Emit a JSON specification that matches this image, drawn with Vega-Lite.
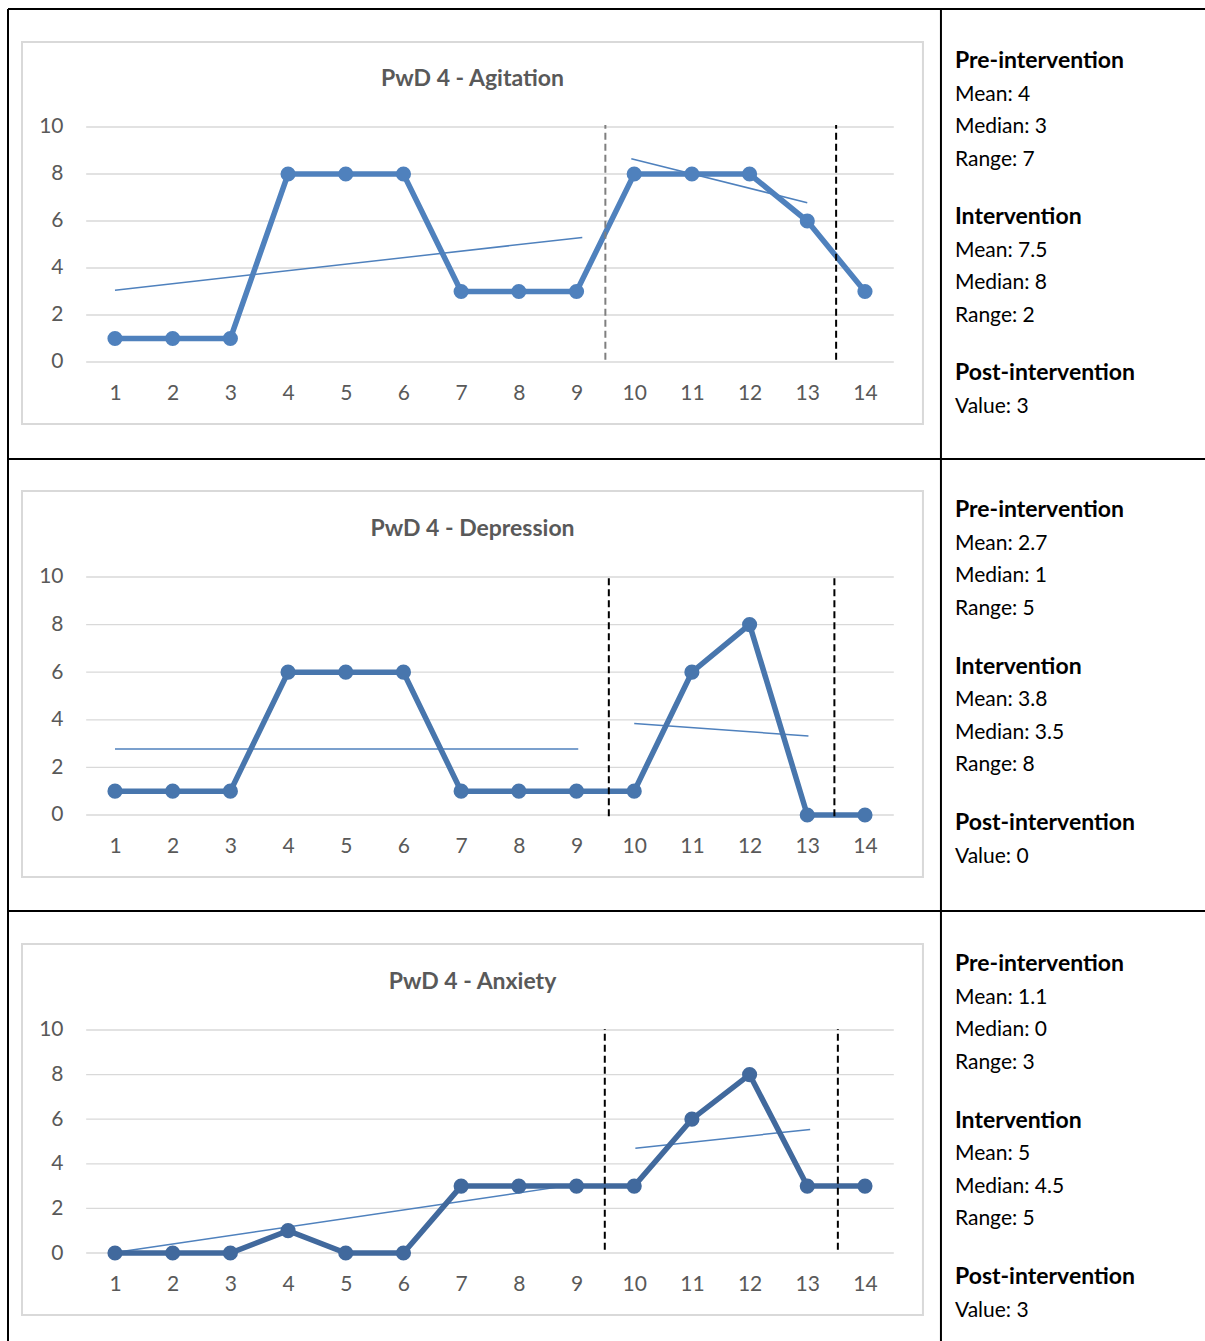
{
  "$schema": "https://vega.github.io/schema/vega-lite/v6.json",
  "padding": {"left": 7, "top": 8, "right": 0, "bottom": 0},
  "spacing": 0,
  "bounds": "flush",
  "config": {
    "view": {"stroke": null},
    "font": "Lato",
    "axis": {"grid": false, "domain": false, "ticks": false, "tickSize": 0, "labelFont": "Lato", "labelFontSize": 21, "labelColor": "#595959", "labelOverlap": false, "labelFlush": false},
    "axisY": {"offset": -55, "labelPadding": 0},
    "axisX": {"labelPadding": 31, "labelBaseline": "middle"}
  },
  "datasets": {
    "series": [
      {"chart": "Agitation", "t": 1, "value": 1}, {"chart": "Agitation", "t": 2, "value": 1}, {"chart": "Agitation", "t": 3, "value": 1}, {"chart": "Agitation", "t": 4, "value": 8}, {"chart": "Agitation", "t": 5, "value": 8}, {"chart": "Agitation", "t": 6, "value": 8}, {"chart": "Agitation", "t": 7, "value": 3}, {"chart": "Agitation", "t": 8, "value": 3}, {"chart": "Agitation", "t": 9, "value": 3}, {"chart": "Agitation", "t": 10, "value": 8}, {"chart": "Agitation", "t": 11, "value": 8}, {"chart": "Agitation", "t": 12, "value": 8}, {"chart": "Agitation", "t": 13, "value": 6}, {"chart": "Agitation", "t": 14, "value": 3},
      {"chart": "Depression", "t": 1, "value": 1}, {"chart": "Depression", "t": 2, "value": 1}, {"chart": "Depression", "t": 3, "value": 1}, {"chart": "Depression", "t": 4, "value": 6}, {"chart": "Depression", "t": 5, "value": 6}, {"chart": "Depression", "t": 6, "value": 6}, {"chart": "Depression", "t": 7, "value": 1}, {"chart": "Depression", "t": 8, "value": 1}, {"chart": "Depression", "t": 9, "value": 1}, {"chart": "Depression", "t": 10, "value": 1}, {"chart": "Depression", "t": 11, "value": 6}, {"chart": "Depression", "t": 12, "value": 8}, {"chart": "Depression", "t": 13, "value": 0}, {"chart": "Depression", "t": 14, "value": 0},
      {"chart": "Anxiety", "t": 1, "value": 0}, {"chart": "Anxiety", "t": 2, "value": 0}, {"chart": "Anxiety", "t": 3, "value": 0}, {"chart": "Anxiety", "t": 4, "value": 1}, {"chart": "Anxiety", "t": 5, "value": 0}, {"chart": "Anxiety", "t": 6, "value": 0}, {"chart": "Anxiety", "t": 7, "value": 3}, {"chart": "Anxiety", "t": 8, "value": 3}, {"chart": "Anxiety", "t": 9, "value": 3}, {"chart": "Anxiety", "t": 10, "value": 3}, {"chart": "Anxiety", "t": 11, "value": 6}, {"chart": "Anxiety", "t": 12, "value": 8}, {"chart": "Anxiety", "t": 13, "value": 3}, {"chart": "Anxiety", "t": 14, "value": 3}
    ],
    "trend": [
      {"chart": "Agitation", "seg": "pre", "t": 1, "value": 3.05}, {"chart": "Agitation", "seg": "pre", "t": 9.1, "value": 5.3},
      {"chart": "Agitation", "seg": "int", "t": 9.95, "value": 8.65}, {"chart": "Agitation", "seg": "int", "t": 13.0, "value": 6.78},
      {"chart": "Depression", "seg": "pre", "t": 1, "value": 2.77}, {"chart": "Depression", "seg": "pre", "t": 9.03, "value": 2.77},
      {"chart": "Depression", "seg": "int", "t": 10, "value": 3.84}, {"chart": "Depression", "seg": "int", "t": 13.02, "value": 3.32},
      {"chart": "Anxiety", "seg": "pre", "t": 1, "value": 0.02}, {"chart": "Anxiety", "seg": "pre", "t": 9.05, "value": 3.1},
      {"chart": "Anxiety", "seg": "int", "t": 10.02, "value": 4.7}, {"chart": "Anxiety", "seg": "int", "t": 13.05, "value": 5.54}
    ],
    "phase": [
      {"chart": "Agitation", "t": 9.5, "tone": "grey"}, {"chart": "Agitation", "t": 13.5, "tone": "black"},
      {"chart": "Depression", "t": 9.56, "tone": "black"}, {"chart": "Depression", "t": 13.47, "tone": "black"},
      {"chart": "Anxiety", "t": 9.49, "tone": "black"}, {"chart": "Anxiety", "t": 13.53, "tone": "black"}
    ],
    "titles": [
      {"chart": "Agitation", "title": "PwD 4 - Agitation"},
      {"chart": "Depression", "title": "PwD 4 - Depression"},
      {"chart": "Anxiety", "title": "PwD 4 - Anxiety"}
    ],
    "stats": [
      {"chart": "Agitation", "section": 1, "head": "Pre-intervention", "body": "Mean: 4\nMedian: 3\nRange: 7"},
      {"chart": "Agitation", "section": 2, "head": "Intervention", "body": "Mean: 7.5\nMedian: 8\nRange: 2"},
      {"chart": "Agitation", "section": 3, "head": "Post-intervention", "body": "Value: 3"},
      {"chart": "Depression", "section": 1, "head": "Pre-intervention", "body": "Mean: 2.7\nMedian: 1\nRange: 5"},
      {"chart": "Depression", "section": 2, "head": "Intervention", "body": "Mean: 3.8\nMedian: 3.5\nRange: 8"},
      {"chart": "Depression", "section": 3, "head": "Post-intervention", "body": "Value: 0"},
      {"chart": "Anxiety", "section": 1, "head": "Pre-intervention", "body": "Mean: 1.1\nMedian: 0\nRange: 3"},
      {"chart": "Anxiety", "section": 2, "head": "Intervention", "body": "Mean: 5\nMedian: 4.5\nRange: 5"},
      {"chart": "Anxiety", "section": 3, "head": "Post-intervention", "body": "Value: 3"}
    ]
  },
  "vconcat": [
    {
      "width": 1197, "height": 450,
      "resolve": {"scale": {"y": "independent"}},
      "layer": [
        {
          "layer": [
            {"data": {"values": [{}]}, "mark": {"type": "rect", "filled": false, "stroke": "#d9d9d9", "strokeWidth": 2},
             "encoding": {"x": {"datum": -0.612, "type": "quantitative", "scale": {"domain": [-0.8547, 19.894], "nice": false, "zero": false}}, "x2": {"datum": 15.005}, "y": {"datum": 13.617, "type": "quantitative", "scale": {"domain": [-4.128, 15.021], "nice": false, "zero": false}}, "y2": {"datum": -2.638}}},
            {"data": {"values": [{"v": 0}, {"v": 2}, {"v": 4}, {"v": 6}, {"v": 8}, {"v": 10}]}, "mark": {"type": "rule", "color": "#d9d9d9", "strokeWidth": 1.3},
             "encoding": {"x": {"datum": 0.5, "type": "quantitative", "scale": {"domain": [-0.8547, 19.894], "nice": false, "zero": false}}, "x2": {"datum": 14.5}, "y": {"field": "v", "type": "quantitative", "title": null, "scale": {"domain": [-4.128, 15.021], "nice": false, "zero": false}, "axis": {"values": [0, 2, 4, 6, 8, 10], "title": null, "zindex": 1}}}},
            {"data": {"name": "trend"}, "transform": [{"filter": "datum.chart === 'Agitation'"}], "mark": {"type": "line", "strokeWidth": 1.5, "color": "#4f81bd"},
             "encoding": {"x": {"field": "t", "type": "quantitative", "title": null, "scale": {"domain": [-0.8547, 19.894], "nice": false, "zero": false}}, "y": {"field": "value", "type": "quantitative", "title": null, "scale": {"domain": [-4.128, 15.021], "nice": false, "zero": false}}, "detail": {"field": "seg"}}},
            {"data": {"name": "series"}, "transform": [{"filter": "datum.chart === 'Agitation'"}], "mark": {"type": "line", "strokeWidth": 5.5, "color": "#4f81bd", "point": {"filled": true, "size": 230, "color": "#4f81bd", "opacity": 1}},
             "encoding": {"x": {"field": "t", "type": "quantitative", "title": null, "scale": {"domain": [-0.8547, 19.894], "nice": false, "zero": false}, "axis": {"values": [1, 2, 3, 4, 5, 6, 7, 8, 9, 10, 11, 12, 13, 14], "format": "d", "offset": -97, "title": null, "zindex": 1}}, "y": {"field": "value", "type": "quantitative", "title": null, "scale": {"domain": [-4.128, 15.021], "nice": false, "zero": false}}}},
            {"data": {"name": "phase"}, "transform": [{"filter": "datum.chart === 'Agitation'"}], "mark": {"type": "rule", "strokeDash": [7, 4], "strokeWidth": 2},
             "encoding": {"x": {"field": "t", "type": "quantitative", "title": null, "scale": {"domain": [-0.8547, 19.894], "nice": false, "zero": false}}, "y": {"datum": 0.1, "type": "quantitative", "scale": {"domain": [-4.128, 15.021], "nice": false, "zero": false}}, "y2": {"datum": 10.08}, "color": {"field": "tone", "type": "nominal", "scale": {"domain": ["grey", "black"], "range": ["#7f7f7f", "#000000"]}, "legend": null}}},
            {"data": {"name": "titles"}, "transform": [{"filter": "datum.chart === 'Agitation'"}], "mark": {"type": "text", "font": "Lato", "fontSize": 23, "fontWeight": "bold", "color": "#595959", "align": "center", "baseline": "middle"},
             "encoding": {"x": {"datum": 7.197, "type": "quantitative", "scale": {"domain": [-0.8547, 19.894], "nice": false, "zero": false}}, "y": {"datum": 12.04, "type": "quantitative", "scale": {"domain": [-4.128, 15.021], "nice": false, "zero": false}}, "text": {"field": "title"}}},
            {"data": {"values": [{}]}, "mark": {"type": "rule", "color": "#000000", "strokeWidth": 2},
             "encoding": {"x": {"datum": -0.8547, "type": "quantitative"}, "x2": {"datum": 19.894}, "y": {"datum": 15.021, "type": "quantitative"}}},
            {"data": {"values": [{}]}, "mark": {"type": "rule", "color": "#000000", "strokeWidth": 2},
             "encoding": {"x": {"datum": -0.8547, "type": "quantitative"}, "y": {"datum": -4.128, "type": "quantitative"}, "y2": {"datum": 15.021}}},
            {"data": {"values": [{}]}, "mark": {"type": "rule", "color": "#000000", "strokeWidth": 2},
             "encoding": {"x": {"datum": 15.317, "type": "quantitative"}, "y": {"datum": -4.128, "type": "quantitative"}, "y2": {"datum": 15.021}}}
          ]
        },
        {
          "data": {"name": "stats"},
          "transform": [{"filter": "datum.chart === 'Agitation'"}],
          "layer": [
            {"mark": {"type": "text", "font": "Lato", "fontSize": 23, "fontWeight": "bold", "align": "left", "baseline": "alphabetic", "color": "#000000"},
             "encoding": {"x": {"datum": 15.56, "type": "quantitative", "scale": {"domain": [-0.8547, 19.894], "nice": false, "zero": false}}, "y": {"field": "section", "type": "quantitative", "scale": {"domain": [1, 3], "range": [59, 371], "nice": false, "zero": false}, "axis": null}, "text": {"field": "head"}}},
            {"mark": {"type": "text", "font": "Lato", "fontSize": 21, "align": "left", "baseline": "alphabetic", "color": "#000000", "dy": 32.5, "lineBreak": "\n", "lineHeight": 32.5},
             "encoding": {"x": {"datum": 15.56, "type": "quantitative", "scale": {"domain": [-0.8547, 19.894], "nice": false, "zero": false}}, "y": {"field": "section", "type": "quantitative", "scale": {"domain": [1, 3], "range": [58.5, 370.5], "nice": false, "zero": false}, "axis": null}, "text": {"field": "body"}}}
          ]
        }
      ]
    },
    {
      "width": 1197, "height": 452,
      "resolve": {"scale": {"y": "independent"}},
      "layer": [
        {
          "layer": [
            {"data": {"values": [{}]}, "mark": {"type": "rect", "filled": false, "stroke": "#d9d9d9", "strokeWidth": 2},
             "encoding": {"x": {"datum": -0.612, "type": "quantitative", "scale": {"domain": [-0.8547, 19.894], "nice": false, "zero": false}}, "x2": {"datum": 15.005}, "y": {"datum": 13.613, "type": "quantitative", "scale": {"domain": [-4.034, 14.958], "nice": false, "zero": false}}, "y2": {"datum": -2.605}}},
            {"data": {"values": [{"v": 0}, {"v": 2}, {"v": 4}, {"v": 6}, {"v": 8}, {"v": 10}]}, "mark": {"type": "rule", "color": "#d9d9d9", "strokeWidth": 1.3},
             "encoding": {"x": {"datum": 0.5, "type": "quantitative", "scale": {"domain": [-0.8547, 19.894], "nice": false, "zero": false}}, "x2": {"datum": 14.5}, "y": {"field": "v", "type": "quantitative", "title": null, "scale": {"domain": [-4.034, 14.958], "nice": false, "zero": false}, "axis": {"values": [0, 2, 4, 6, 8, 10], "title": null, "zindex": 1}}}},
            {"data": {"name": "trend"}, "transform": [{"filter": "datum.chart === 'Depression'"}], "mark": {"type": "line", "strokeWidth": 1.5, "color": "#4f81bd"},
             "encoding": {"x": {"field": "t", "type": "quantitative", "title": null, "scale": {"domain": [-0.8547, 19.894], "nice": false, "zero": false}}, "y": {"field": "value", "type": "quantitative", "title": null, "scale": {"domain": [-4.034, 14.958], "nice": false, "zero": false}}, "detail": {"field": "seg"}}},
            {"data": {"name": "series"}, "transform": [{"filter": "datum.chart === 'Depression'"}], "mark": {"type": "line", "strokeWidth": 5.5, "color": "#4876ad", "point": {"filled": true, "size": 230, "color": "#4876ad", "opacity": 1}},
             "encoding": {"x": {"field": "t", "type": "quantitative", "title": null, "scale": {"domain": [-0.8547, 19.894], "nice": false, "zero": false}, "axis": {"values": [1, 2, 3, 4, 5, 6, 7, 8, 9, 10, 11, 12, 13, 14], "format": "d", "offset": -96, "title": null, "zindex": 1}}, "y": {"field": "value", "type": "quantitative", "title": null, "scale": {"domain": [-4.034, 14.958], "nice": false, "zero": false}}}},
            {"data": {"name": "phase"}, "transform": [{"filter": "datum.chart === 'Depression'"}], "mark": {"type": "rule", "strokeDash": [7, 4], "strokeWidth": 2},
             "encoding": {"x": {"field": "t", "type": "quantitative", "title": null, "scale": {"domain": [-0.8547, 19.894], "nice": false, "zero": false}}, "y": {"datum": -0.05, "type": "quantitative", "scale": {"domain": [-4.034, 14.958], "nice": false, "zero": false}}, "y2": {"datum": 10.0}, "color": {"field": "tone", "type": "nominal", "scale": {"domain": ["grey", "black"], "range": ["#7f7f7f", "#000000"]}, "legend": null}}},
            {"data": {"name": "titles"}, "transform": [{"filter": "datum.chart === 'Depression'"}], "mark": {"type": "text", "font": "Lato", "fontSize": 23, "fontWeight": "bold", "color": "#595959", "align": "center", "baseline": "middle"},
             "encoding": {"x": {"datum": 7.197, "type": "quantitative", "scale": {"domain": [-0.8547, 19.894], "nice": false, "zero": false}}, "y": {"datum": 12.017, "type": "quantitative", "scale": {"domain": [-4.034, 14.958], "nice": false, "zero": false}}, "text": {"field": "title"}}},
            {"data": {"values": [{}]}, "mark": {"type": "rule", "color": "#000000", "strokeWidth": 2},
             "encoding": {"x": {"datum": -0.8547, "type": "quantitative"}, "x2": {"datum": 19.894}, "y": {"datum": 14.958, "type": "quantitative"}}},
            {"data": {"values": [{}]}, "mark": {"type": "rule", "color": "#000000", "strokeWidth": 2},
             "encoding": {"x": {"datum": -0.8547, "type": "quantitative"}, "y": {"datum": -4.034, "type": "quantitative"}, "y2": {"datum": 14.958}}},
            {"data": {"values": [{}]}, "mark": {"type": "rule", "color": "#000000", "strokeWidth": 2},
             "encoding": {"x": {"datum": 15.317, "type": "quantitative"}, "y": {"datum": -4.034, "type": "quantitative"}, "y2": {"datum": 14.958}}}
          ]
        },
        {
          "data": {"name": "stats"},
          "transform": [{"filter": "datum.chart === 'Depression'"}],
          "layer": [
            {"mark": {"type": "text", "font": "Lato", "fontSize": 23, "fontWeight": "bold", "align": "left", "baseline": "alphabetic", "color": "#000000"},
             "encoding": {"x": {"datum": 15.56, "type": "quantitative", "scale": {"domain": [-0.8547, 19.894], "nice": false, "zero": false}}, "y": {"field": "section", "type": "quantitative", "scale": {"domain": [1, 3], "range": [58, 371], "nice": false, "zero": false}, "axis": null}, "text": {"field": "head"}}},
            {"mark": {"type": "text", "font": "Lato", "fontSize": 21, "align": "left", "baseline": "alphabetic", "color": "#000000", "dy": 32.5, "lineBreak": "\n", "lineHeight": 32.5},
             "encoding": {"x": {"datum": 15.56, "type": "quantitative", "scale": {"domain": [-0.8547, 19.894], "nice": false, "zero": false}}, "y": {"field": "section", "type": "quantitative", "scale": {"domain": [1, 3], "range": [57.5, 370.5], "nice": false, "zero": false}, "axis": null}, "text": {"field": "body"}}}
          ]
        }
      ]
    },
    {
      "width": 1197, "height": 430,
      "resolve": {"scale": {"y": "independent"}},
      "layer": [
        {
          "layer": [
            {"data": {"values": [{}]}, "mark": {"type": "rect", "filled": false, "stroke": "#d9d9d9", "strokeWidth": 2},
             "encoding": {"x": {"datum": -0.612, "type": "quantitative", "scale": {"domain": [-0.8547, 19.894], "nice": false, "zero": false}}, "x2": {"datum": 15.005}, "y": {"datum": 13.856, "type": "quantitative", "scale": {"domain": [-3.946, 15.336], "nice": false, "zero": false}}, "y2": {"datum": -2.781}}},
            {"data": {"values": [{"v": 0}, {"v": 2}, {"v": 4}, {"v": 6}, {"v": 8}, {"v": 10}]}, "mark": {"type": "rule", "color": "#d9d9d9", "strokeWidth": 1.3},
             "encoding": {"x": {"datum": 0.5, "type": "quantitative", "scale": {"domain": [-0.8547, 19.894], "nice": false, "zero": false}}, "x2": {"datum": 14.5}, "y": {"field": "v", "type": "quantitative", "title": null, "scale": {"domain": [-3.946, 15.336], "nice": false, "zero": false}, "axis": {"values": [0, 2, 4, 6, 8, 10], "title": null, "zindex": 1}}}},
            {"data": {"name": "trend"}, "transform": [{"filter": "datum.chart === 'Anxiety'"}], "mark": {"type": "line", "strokeWidth": 1.5, "color": "#4f81bd"},
             "encoding": {"x": {"field": "t", "type": "quantitative", "title": null, "scale": {"domain": [-0.8547, 19.894], "nice": false, "zero": false}}, "y": {"field": "value", "type": "quantitative", "title": null, "scale": {"domain": [-3.946, 15.336], "nice": false, "zero": false}}, "detail": {"field": "seg"}}},
            {"data": {"name": "series"}, "transform": [{"filter": "datum.chart === 'Anxiety'"}], "mark": {"type": "line", "strokeWidth": 5.5, "color": "#41699d", "point": {"filled": true, "size": 230, "color": "#41699d", "opacity": 1}},
             "encoding": {"x": {"field": "t", "type": "quantitative", "title": null, "scale": {"domain": [-0.8547, 19.894], "nice": false, "zero": false}, "axis": {"values": [1, 2, 3, 4, 5, 6, 7, 8, 9, 10, 11, 12, 13, 14], "format": "d", "offset": -88, "title": null, "zindex": 1}}, "y": {"field": "value", "type": "quantitative", "title": null, "scale": {"domain": [-3.946, 15.336], "nice": false, "zero": false}}}},
            {"data": {"name": "phase"}, "transform": [{"filter": "datum.chart === 'Anxiety'"}], "mark": {"type": "rule", "strokeDash": [7, 4], "strokeWidth": 2},
             "encoding": {"x": {"field": "t", "type": "quantitative", "title": null, "scale": {"domain": [-0.8547, 19.894], "nice": false, "zero": false}}, "y": {"datum": 0.15, "type": "quantitative", "scale": {"domain": [-3.946, 15.336], "nice": false, "zero": false}}, "y2": {"datum": 10.05}, "color": {"field": "tone", "type": "nominal", "scale": {"domain": ["grey", "black"], "range": ["#7f7f7f", "#000000"]}, "legend": null}}},
            {"data": {"name": "titles"}, "transform": [{"filter": "datum.chart === 'Anxiety'"}], "mark": {"type": "text", "font": "Lato", "fontSize": 23, "fontWeight": "bold", "color": "#595959", "align": "center", "baseline": "middle"},
             "encoding": {"x": {"datum": 7.197, "type": "quantitative", "scale": {"domain": [-0.8547, 19.894], "nice": false, "zero": false}}, "y": {"datum": 12.152, "type": "quantitative", "scale": {"domain": [-3.946, 15.336], "nice": false, "zero": false}}, "text": {"field": "title"}}},
            {"data": {"values": [{}]}, "mark": {"type": "rule", "color": "#000000", "strokeWidth": 2},
             "encoding": {"x": {"datum": -0.8547, "type": "quantitative"}, "x2": {"datum": 19.894}, "y": {"datum": 15.336, "type": "quantitative"}}},
            {"data": {"values": [{}]}, "mark": {"type": "rule", "color": "#000000", "strokeWidth": 2},
             "encoding": {"x": {"datum": -0.8547, "type": "quantitative"}, "y": {"datum": -3.946, "type": "quantitative"}, "y2": {"datum": 15.336}}},
            {"data": {"values": [{}]}, "mark": {"type": "rule", "color": "#000000", "strokeWidth": 2},
             "encoding": {"x": {"datum": 15.317, "type": "quantitative"}, "y": {"datum": -3.946, "type": "quantitative"}, "y2": {"datum": 15.336}}}
          ]
        },
        {
          "data": {"name": "stats"},
          "transform": [{"filter": "datum.chart === 'Anxiety'"}],
          "layer": [
            {"mark": {"type": "text", "font": "Lato", "fontSize": 23, "fontWeight": "bold", "align": "left", "baseline": "alphabetic", "color": "#000000"},
             "encoding": {"x": {"datum": 15.56, "type": "quantitative", "scale": {"domain": [-0.8547, 19.894], "nice": false, "zero": false}}, "y": {"field": "section", "type": "quantitative", "scale": {"domain": [1, 3], "range": [60, 373], "nice": false, "zero": false}, "axis": null}, "text": {"field": "head"}}},
            {"mark": {"type": "text", "font": "Lato", "fontSize": 21, "align": "left", "baseline": "alphabetic", "color": "#000000", "dy": 32.5, "lineBreak": "\n", "lineHeight": 32.5},
             "encoding": {"x": {"datum": 15.56, "type": "quantitative", "scale": {"domain": [-0.8547, 19.894], "nice": false, "zero": false}}, "y": {"field": "section", "type": "quantitative", "scale": {"domain": [1, 3], "range": [59.5, 372.5], "nice": false, "zero": false}, "axis": null}, "text": {"field": "body"}}}
          ]
        }
      ]
    }
  ]
}
